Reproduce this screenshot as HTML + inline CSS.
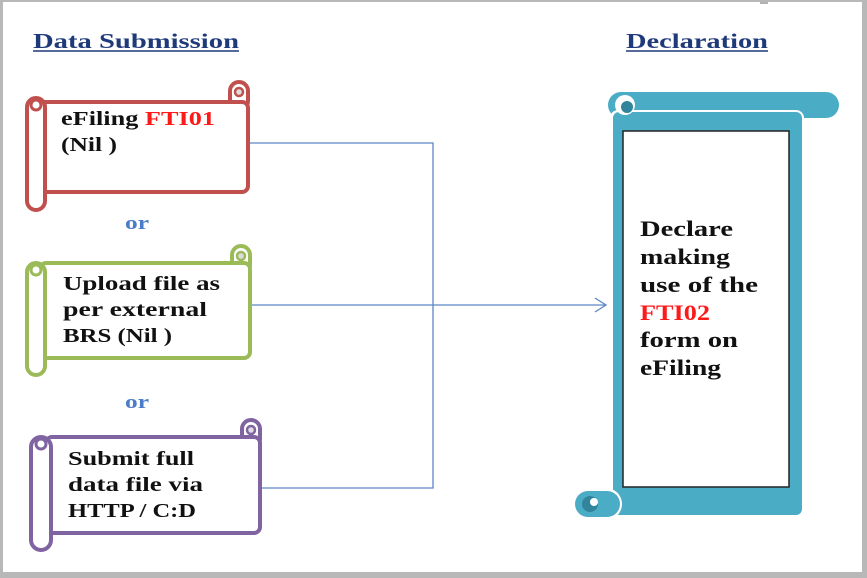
<!DOCTYPE html>
<html><head><meta charset="utf-8"><style>
html,body{margin:0;padding:0;background:#9a9a9a;}
svg{display:block}
text{font-family:"Liberation Serif",serif;font-weight:bold;}
</style></head><body>
<svg width="867" height="578" viewBox="0 0 867 578" xmlns="http://www.w3.org/2000/svg">
<rect x="0" y="0" width="867" height="578" fill="#b8b8b8"/>
<rect x="3" y="2" width="859" height="570" fill="#ffffff"/>
<line x1="760" y1="3" x2="768" y2="3" stroke="#666" stroke-width="1"/>
<!-- titles -->
<text x="33" y="48" font-size="21" fill="#1f3a7a" textLength="206" lengthAdjust="spacingAndGlyphs">Data Submission</text>
<line x1="33" y1="51" x2="239" y2="51" stroke="#1f3a7a" stroke-width="1.6"/>
<text x="626" y="48" font-size="21" fill="#1f3a7a" textLength="142" lengthAdjust="spacingAndGlyphs">Declaration</text>
<line x1="626" y1="51" x2="768" y2="51" stroke="#1f3a7a" stroke-width="1.6"/>

<!-- connectors -->
<g stroke="#5b86c6" stroke-width="1.3" fill="none">
<polyline points="250,143 433,143 433,488 262,488"/>
<line x1="252" y1="305" x2="605" y2="305"/>
<polyline points="595,298 606,305 595,312"/>
</g>

<!-- red scroll -->
<g stroke="#c0504d" stroke-width="4" fill="#fff">
<rect x="230" y="82" width="18" height="28" rx="9"/>
<rect x="40" y="102" width="208" height="90" rx="6"/>
<rect x="27" y="98" width="18" height="112" rx="9"/>
<circle cx="36" cy="105" r="5" stroke-width="3"/>
<circle cx="239" cy="92" r="4" stroke-width="2.5" fill="#ddd"/>
</g>
<text font-size="20" fill="#111"><tspan x="61" y="125" textLength="154" lengthAdjust="spacingAndGlyphs">eFiling <tspan fill="#ff1a1a">FTI01</tspan></tspan></text>
<text x="61" y="151" font-size="20" fill="#111" textLength="56" lengthAdjust="spacingAndGlyphs">(Nil )</text>
<text x="125" y="229" font-size="19" fill="#4a7cc9" textLength="24" lengthAdjust="spacingAndGlyphs">or</text>

<!-- green scroll -->
<g stroke="#9bbb59" stroke-width="4" fill="#fff">
<rect x="232" y="246" width="18" height="28" rx="9"/>
<rect x="40" y="263" width="210" height="95" rx="6"/>
<rect x="27" y="263" width="18" height="112" rx="9"/>
<circle cx="36" cy="270" r="5" stroke-width="3"/>
<circle cx="241" cy="256" r="4" stroke-width="2.5" fill="#ddd"/>
</g>
<text font-size="20" fill="#111">
<tspan x="63" y="290" textLength="157" lengthAdjust="spacingAndGlyphs">Upload file as</tspan></text>
<text x="63" y="316" font-size="20" fill="#111" textLength="144" lengthAdjust="spacingAndGlyphs">per external</text>
<text x="63" y="342" font-size="20" fill="#111" textLength="109" lengthAdjust="spacingAndGlyphs">BRS (Nil )</text>
<text x="125" y="408" font-size="19" fill="#4a7cc9" textLength="24" lengthAdjust="spacingAndGlyphs">or</text>

<!-- purple scroll -->
<g stroke="#8064a2" stroke-width="4" fill="#fff">
<rect x="242" y="420" width="18" height="28" rx="9"/>
<rect x="46" y="437" width="214" height="96" rx="6"/>
<rect x="31" y="437" width="20" height="113" rx="10"/>
<circle cx="41" cy="444" r="5" stroke-width="3"/>
<circle cx="251" cy="430" r="4" stroke-width="2.5" fill="#ddd"/>
</g>
<text x="68" y="465" font-size="20" fill="#111" textLength="126" lengthAdjust="spacingAndGlyphs">Submit full</text>
<text x="68" y="491" font-size="20" fill="#111" textLength="135" lengthAdjust="spacingAndGlyphs">data file via</text>
<text x="68" y="517" font-size="20" fill="#111" textLength="128" lengthAdjust="spacingAndGlyphs">HTTP / C:D</text>

<!-- blue scroll -->
<g>
<rect x="606" y="90" width="236" height="30" rx="15" fill="#fff"/>
<rect x="608" y="92" width="231" height="26" rx="13" fill="#4bacc6"/>
<rect x="610" y="110" width="194" height="408" rx="8" fill="#fff"/>
<rect x="613" y="112" width="189" height="403" rx="6" fill="#4bacc6"/>
<circle cx="625" cy="105" r="10" fill="#fff"/>
<circle cx="627" cy="107" r="6" fill="#31849b"/>
<rect x="572" y="488" width="50" height="32" rx="16" fill="#fff"/>
<rect x="575" y="491" width="45" height="26" rx="13" fill="#4bacc6"/>
<circle cx="590" cy="504" r="8" fill="#31849b"/>
<circle cx="594" cy="502" r="4" fill="#fff"/>
<rect x="623" y="131" width="166" height="356" fill="#fff" stroke="#222" stroke-width="1.5"/>
</g>
<g font-size="22" fill="#111">
<text x="640" y="236" textLength="93" lengthAdjust="spacingAndGlyphs">Declare</text>
<text x="640" y="264" textLength="90" lengthAdjust="spacingAndGlyphs">making</text>
<text x="640" y="292" textLength="118" lengthAdjust="spacingAndGlyphs">use of the</text>
<text x="640" y="320" fill="#ff1a1a" textLength="70" lengthAdjust="spacingAndGlyphs">FTI02</text>
<text x="640" y="347" textLength="98" lengthAdjust="spacingAndGlyphs">form on</text>
<text x="640" y="375" textLength="81" lengthAdjust="spacingAndGlyphs">eFiling</text>
</g>
</svg>
</body></html>
